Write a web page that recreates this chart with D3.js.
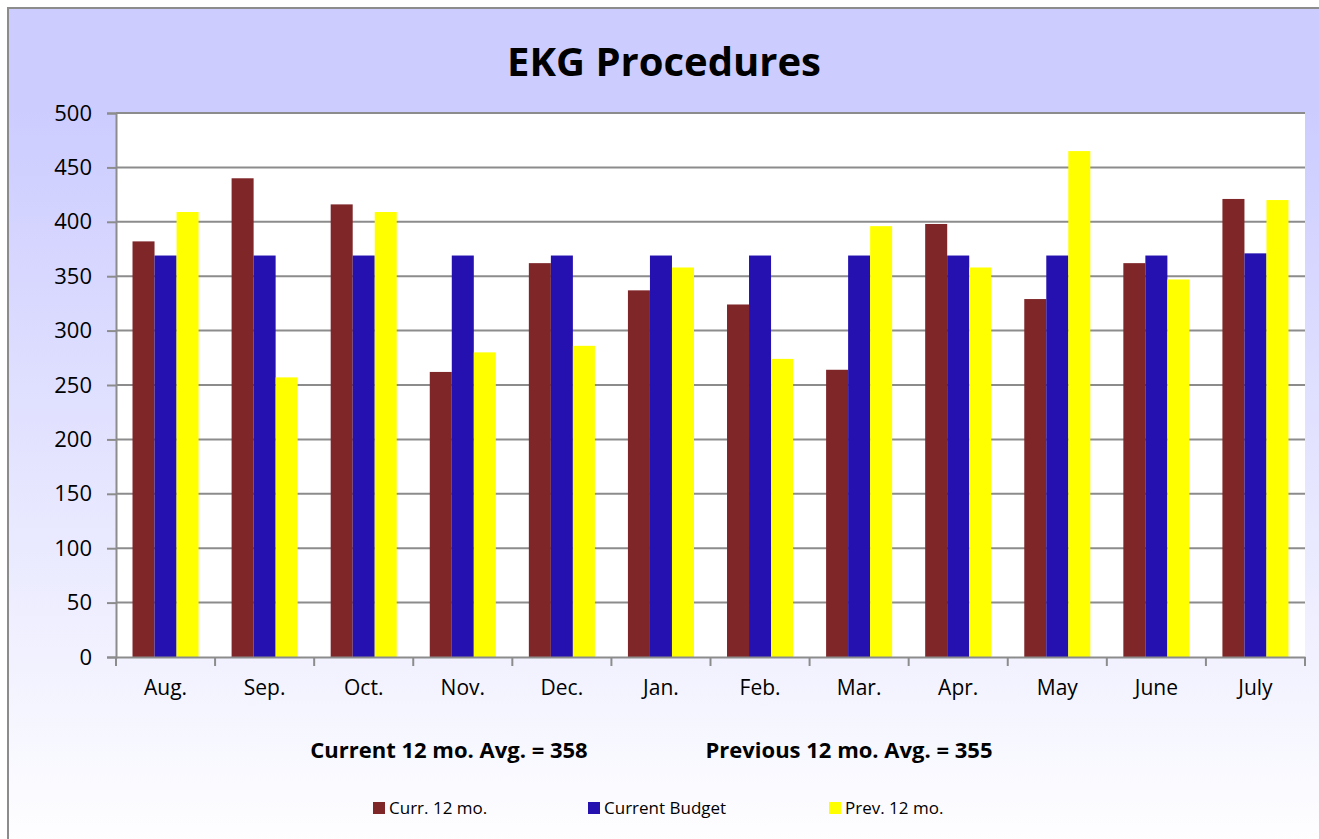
<!DOCTYPE html>
<html>
<head>
<meta charset="utf-8">
<script src="https://cdn.jsdelivr.net/npm/d3@7/dist/d3.min.js"></script>
<style>
  body { margin: 0; background: #fff; }
  svg { display: block; font-family: "Open Sans", "Noto Sans", sans-serif; }
</style>
</head>
<body>
<div class="chart"></div>
<script>
const FRAME_WIDTH = 1319;
const FRAME_HEIGHT = 839;
const MARGINS = {left: 116, right: 14, top: 113, bottom: 182};
const FONT = "'Open Sans', 'Noto Sans', sans-serif";

const MONTHS = ["Aug.", "Sep.", "Oct.", "Nov.", "Dec.", "Jan.", "Feb.", "Mar.", "Apr.", "May", "June", "July"];
const SERIES = ["Curr. 12 mo.", "Current Budget", "Prev. 12 mo."];
const COLORS = ["#7f2629", "#2511b0", "#ffff00"];
const CURR = [382, 440, 416, 262, 362, 337, 324, 264, 398, 329, 362, 421];
const BUDGET = [369, 369, 369, 369, 369, 369, 369, 369, 369, 369, 369, 371];
const PREV = [409, 257, 409, 280, 286, 358, 274, 396, 358, 465, 347, 420];
const Y_TICKS = [0, 50, 100, 150, 200, 250, 300, 350, 400, 450, 500];

const PLOT_WIDTH = FRAME_WIDTH - MARGINS.left - MARGINS.right;
const PLOT_HEIGHT = FRAME_HEIGHT - MARGINS.top - MARGINS.bottom;

const FRAME = d3.select(".chart")
                .append("svg")
                .attr("width", FRAME_WIDTH)
                .attr("height", FRAME_HEIGHT);

// background gradient
const grad = FRAME.append("defs").append("linearGradient")
                  .attr("id", "bg")
                  .attr("x1", 0).attr("y1", 0).attr("x2", 0).attr("y2", 1);
grad.append("stop").attr("offset", "0%").attr("stop-color", "#ccccff");
grad.append("stop").attr("offset", "12%").attr("stop-color", "#ccccff");
grad.append("stop").attr("offset", "100%").attr("stop-color", "#ffffff");

FRAME.append("rect")
     .attr("x", 8).attr("y", 8)
     .attr("width", FRAME_WIDTH + 10).attr("height", FRAME_HEIGHT + 10)
     .attr("fill", "url(#bg)")
     .attr("stroke", "#8c8c8c")
     .attr("stroke-width", 2);

FRAME.append("rect")
     .attr("x", MARGINS.left).attr("y", MARGINS.top)
     .attr("width", PLOT_WIDTH).attr("height", PLOT_HEIGHT)
     .attr("fill", "#ffffff");

const data = MONTHS.map((m, i) => ({month: m, values: [CURR[i], BUDGET[i], PREV[i]]}));

const X_SCALE = d3.scaleBand()
                  .domain(MONTHS)
                  .range([MARGINS.left, MARGINS.left + PLOT_WIDTH])
                  .paddingInner(1 / 3)
                  .paddingOuter(1 / 6);

const X_SUB = d3.scaleBand()
                .domain(d3.range(SERIES.length))
                .range([0, X_SCALE.bandwidth()]);

const Y_SCALE = d3.scaleLinear()
                  .domain([0, 500])
                  .range([MARGINS.top + PLOT_HEIGHT, MARGINS.top]);

// gridlines
FRAME.append("g")
     .selectAll("line")
     .data(Y_TICKS.filter(t => t > 0))
     .enter()
     .append("line")
       .attr("x1", MARGINS.left).attr("x2", MARGINS.left + PLOT_WIDTH)
       .attr("y1", d => Y_SCALE(d)).attr("y2", d => Y_SCALE(d))
       .attr("stroke", "#8c8c8c")
       .attr("stroke-width", 2);

// bars
FRAME.append("g")
     .selectAll("g")
     .data(data)
     .enter()
     .append("g")
       .attr("transform", d => "translate(" + X_SCALE(d.month) + ",0)")
     .selectAll("rect")
     .data(d => d.values)
     .enter()
     .append("rect")
       .attr("x", (d, i) => X_SUB(i))
       .attr("y", d => Y_SCALE(d))
       .attr("width", X_SUB.bandwidth())
       .attr("height", d => Y_SCALE(0) - Y_SCALE(d))
       .attr("fill", (d, i) => COLORS[i]);

// y axis
const yAxis = FRAME.append("g")
     .attr("transform", "translate(" + MARGINS.left + ",0)")
     .call(d3.axisLeft(Y_SCALE).tickValues(Y_TICKS).tickSize(9).tickPadding(15))
     .attr("font-family", FONT)
     .attr("font-size", "22px");
yAxis.select(".domain").attr("stroke", "#8c8c8c").attr("stroke-width", 2);
yAxis.selectAll(".tick line").attr("stroke", "#8c8c8c").attr("stroke-width", 2);
yAxis.selectAll("text").attr("fill", "#000");

// x axis
const xAxis = FRAME.append("g")
     .attr("transform", "translate(0," + Y_SCALE(0) + ")")
     .call(d3.axisBottom(X_SCALE).tickSize(0).tickPadding(23))
     .attr("font-family", FONT)
     .attr("font-size", "21px");
xAxis.select(".domain").attr("stroke", "#8c8c8c").attr("stroke-width", 2);
xAxis.selectAll("text").attr("fill", "#000");

// ticks at category boundaries
xAxis.append("g")
     .selectAll("line")
     .data(d3.range(MONTHS.length + 1))
     .enter()
     .append("line")
       .attr("x1", i => MARGINS.left + i * X_SCALE.step())
       .attr("x2", i => MARGINS.left + i * X_SCALE.step())
       .attr("y1", 0).attr("y2", 9)
       .attr("stroke", "#8c8c8c")
       .attr("stroke-width", 2);

// title
FRAME.append("text")
     .attr("x", 664).attr("y", 76)
     .attr("text-anchor", "middle")
     .attr("font-size", "40px")
     .attr("font-weight", "bold")
     .text("EKG Procedures");

// averages
FRAME.append("text")
     .attr("x", 449).attr("y", 758)
     .attr("text-anchor", "middle")
     .attr("font-size", "22px")
     .attr("font-weight", "bold")
     .text("Current 12 mo. Avg. = 358");

FRAME.append("text")
     .attr("x", 849).attr("y", 758)
     .attr("text-anchor", "middle")
     .attr("font-size", "22px")
     .attr("font-weight", "bold")
     .text("Previous 12 mo. Avg. = 355");

// legend
const LEGEND_X = [373, 588, 829];
const legend = FRAME.append("g")
     .selectAll("g")
     .data(SERIES)
     .enter()
     .append("g")
       .attr("transform", (d, i) => "translate(" + LEGEND_X[i] + ",802)");
legend.append("rect")
      .attr("width", 12).attr("height", 12)
      .attr("fill", (d, i) => COLORS[i]);
legend.append("text")
      .attr("x", 16).attr("y", 12)
      .attr("font-size", "17px")
      .text(d => d);
</script>
</body>
</html>
